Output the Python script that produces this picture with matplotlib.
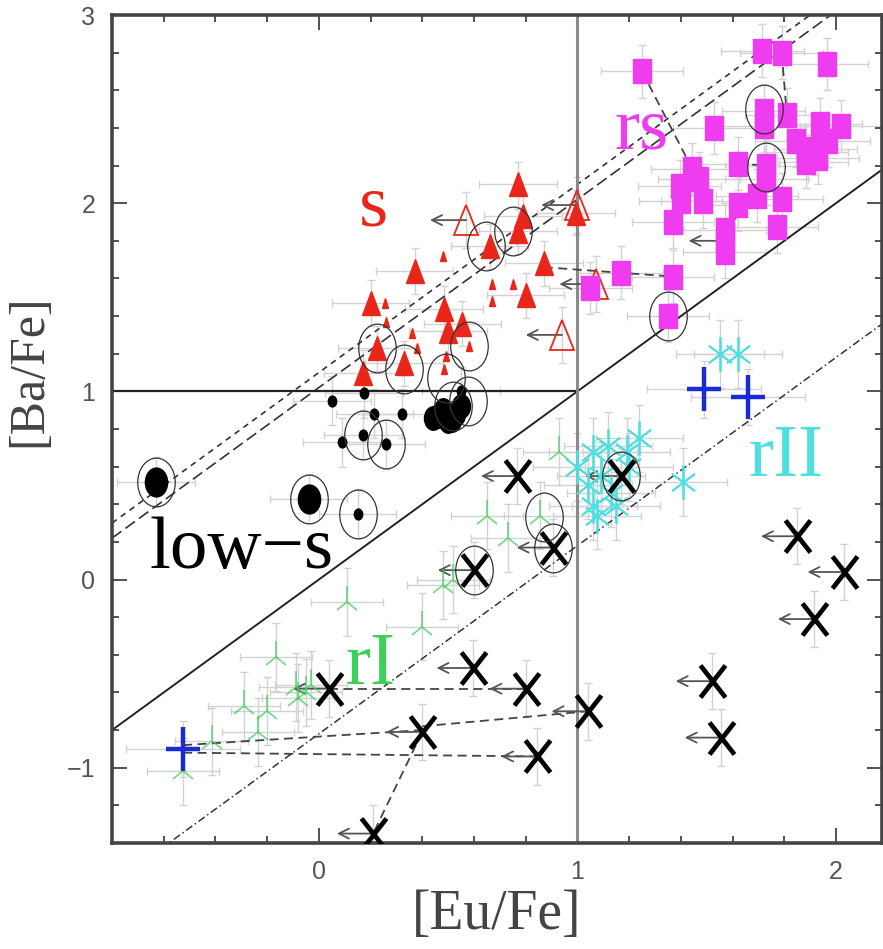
import numpy as np
import matplotlib
matplotlib.use("Agg")
import matplotlib.pyplot as plt
from matplotlib.markers import MarkerStyle
from matplotlib.transforms import Affine2D
from matplotlib.ticker import MultipleLocator, FixedLocator

# ---------------- data: [Eu/Fe] vs [Ba/Fe] ----------------
# s-rich stars (large filled triangles)
s_eu = [0.77, 0.79, 0.77, 0.66, 0.87, 0.80, 0.37, 0.20, 0.485, 0.50, 0.555, 0.225, 0.33, 0.17, 0.995]
s_ba = [2.10, 1.93, 1.85, 1.77, 1.68, 1.51, 1.64, 1.47, 1.44, 1.32, 1.36, 1.23, 1.15, 1.10, 1.95]
# s-rich stars (small triangles)
ss_eu = [0.48, 0.67, 0.67, 0.75, 0.255, 0.26, 0.36, 0.38, 0.58, 0.485, 0.49]
ss_ba = [1.72, 1.57, 1.48, 1.57, 1.47, 1.37, 1.31, 1.23, 1.24, 1.12, 1.19]
# s-rich stars with Eu upper limits (open triangles)
slim_eu = [0.57, 0.94, 1.00, 1.07]
slim_ba = [1.91, 1.30, 1.99, 1.57]

# rs stars
rs_eu = [1.25, 1.715, 1.79, 1.965, 1.72, 1.72, 1.81, 1.53, 1.94, 2.02, 1.845, 1.885,
         1.92, 1.97, 1.885, 1.93, 1.62, 1.73, 1.73, 1.445, 1.395, 1.47, 1.40, 1.485,
         1.62, 1.695, 1.79, 1.37, 1.77, 1.57, 1.57, 1.37, 1.17, 1.05, 1.35]
rs_ba = [2.70, 2.81, 2.80, 2.74, 2.49, 2.41, 2.47, 2.40, 2.42, 2.41, 2.33, 2.27,
         2.29, 2.33, 2.22, 2.24, 2.21, 2.20, 2.13, 2.18, 2.09, 2.13, 2.01, 2.01,
         1.99, 2.04, 2.02, 1.90, 1.875, 1.86, 1.74, 1.61, 1.63, 1.55, 1.40]
rslim_eu = [1.57]
rslim_ba = [1.80]

# low-s stars
ls_big_eu = [-0.63, -0.04]
ls_big_ba = [0.52, 0.43]
ls_mid_eu = [0.44, 0.46, 0.48, 0.50, 0.515, 0.53, 0.55]
ls_mid_ba = [0.86, 0.87, 0.90, 0.84, 0.85, 0.88, 0.92]
ls_small_eu = [0.05, 0.175, 0.215, 0.09, 0.17, 0.26, 0.32, 0.55, 0.15]
ls_small_ba = [0.95, 0.99, 0.88, 0.73, 0.77, 0.72, 0.88, 1.00, 0.35]

# r-I stars
rI_eu = [0.11, 0.40, 0.48, 0.52, 0.65, 0.73, 0.93, 0.855, -0.165, -0.09, -0.05,
         -0.08, -0.03, -0.29, -0.20, -0.235, -0.415, -0.525]
rI_ba = [-0.12, -0.25, -0.03, 0.00, 0.34, 0.22, 0.68, 0.34, -0.41, -0.57, -0.60,
         -0.63, -0.56, -0.67, -0.70, -0.81, -0.86, -1.02]

# r-II stars
rII_eu = [1.00, 1.04, 1.06, 1.06, 1.075, 1.09, 1.12, 1.13, 1.15, 1.19, 1.20, 1.24, 1.41, 1.55, 1.62]
rII_ba = [0.60, 0.50, 0.68, 0.39, 0.34, 0.55, 0.71, 0.46, 0.39, 0.68, 0.60, 0.75, 0.52, 1.20, 1.20]

# other stars (plus signs)
plus_eu = [-0.525, 1.49, 1.66]
plus_ba = [-0.90, 1.01, 0.97]

# stars with Eu upper limits (crosses)
cross_eu = [0.767, 1.17, 0.60, 0.905, 1.85, 2.03, 1.915, 1.52, 1.555, 0.595, 0.80, 0.04,
            1.04, 0.40, 0.845, 0.21]
cross_ba = [0.55, 0.55, 0.05, 0.17, 0.23, 0.04, -0.21, -0.54, -0.84, -0.47, -0.58, -0.58,
            -0.70, -0.81, -0.94, -1.35]

# circled objects
ring_eu = [-0.63, -0.04, 0.15, 0.17, 0.26, 0.225, 0.33, 0.49, 0.58, 0.645, 0.75, 0.575,
           0.52, 1.72, 1.73, 1.35, 1.17, 0.87, 0.905, 0.60]
ring_ba = [0.52, 0.43, 0.35, 0.77, 0.72, 1.23, 1.12, 1.07, 1.24, 1.77, 1.85, 0.95,
           0.92, 2.50, 2.19, 1.40, 0.55, 0.33, 0.17, 0.05]

# dashed links between measurements of the same star
link_eu = [[0.04, 0.80], [-0.525, 0.40], [-0.525, 0.845], [0.40, 1.04], [0.40, 0.21],
           [0.87, 1.17, 1.37], [1.25, 1.445], [1.62, 1.73], [1.57, 1.695], [1.79, 1.81]]
link_ba = [[-0.58, -0.58], [-0.88, -0.80], [-0.92, -0.94], [-0.78, -0.70], [-0.81, -1.35],
           [1.66, 1.63, 1.61], [2.70, 2.18], [2.21, 2.20], [1.86, 2.04], [2.80, 2.47]]

# classification boundaries: [Ba/Fe] = [Eu/Fe] + c
bound_solid = 0.0
bound_dashdot = -0.82
bound_dash_short = 1.10
bound_dash_long = 1.02

x_ticks = [0, 1, 2]
y_ticks = [-1, 0, 1, 2, 3]

# ---------------- styling ----------------
RED = "#e8261a"
MAGENTA = "#f03cf0"
CYAN = "#4ee0e0"
GREEN = "#3ccf5a"
BLUE = "#1a2ad6"
ERR = "#d2d2d2"
STRETCH = 1.3


def mk(m, fill="full"):
    return MarkerStyle(m, fillstyle=fill, transform=Affine2D().scale(1.0, STRETCH))


fig = plt.figure(figsize=(8.83, 9.49), dpi=100)
ax = fig.add_axes([112 / 883, 1 - 843 / 949, 770 / 883, 828 / 949])
ax.set_xlim(-0.8, 2.178)
ax.set_ylim(-1.4, 3.0)

# boundaries
xs = np.array(ax.get_xlim())
ax.plot(xs, xs + bound_solid, color="#222", lw=1.4, zorder=2)
ax.plot(xs, xs + bound_dashdot, color="#333", lw=1.1, dashes=(5, 2, 1, 2), zorder=2)
ax.plot(xs, xs + bound_dash_short, color="#333", lw=1.2, dashes=(3.5, 3), zorder=2)
ax.plot(xs, xs + bound_dash_long, color="#333", lw=1.2, dashes=(7, 3), zorder=2)
ax.plot([xs[0], 1], [1, 1], color="#222", lw=1.6, zorder=2)
ax.axvline(1, color="#8a8a8a", lw=2.2, zorder=2)

# error bars
eb = dict(fmt="none", ecolor=ERR, elinewidth=1.0, capsize=3, capthick=1.0, zorder=1)
ax.errorbar(s_eu, s_ba, xerr=0.15, yerr=0.12, **eb)
ax.errorbar(slim_eu, slim_ba, yerr=0.15, **eb)
ax.errorbar(rs_eu, rs_ba, xerr=0.16, yerr=0.14, **eb)
ax.errorbar(ls_big_eu + ls_small_eu, ls_big_ba + ls_small_ba, xerr=0.15, yerr=0.13, **eb)
ax.errorbar(rI_eu, rI_ba, xerr=0.14, yerr=0.18, **eb)
ax.errorbar(rII_eu, rII_ba, xerr=0.17, yerr=0.18, **eb)
ax.errorbar(plus_eu, plus_ba, xerr=0.22, yerr=0.15, **eb)
ax.errorbar(cross_eu, cross_ba, yerr=0.15, **eb)

# dashed links
for le, lb in zip(link_eu, link_ba):
    ax.plot(le, lb, color="#444", lw=1.3, dashes=(5, 3), zorder=3)

# upper-limit arrows
arrow_kw = dict(arrowstyle="->", color="#555", lw=1.3, shrinkA=0, shrinkB=0, mutation_scale=18)
for xe, yb in zip(cross_eu + slim_eu + rslim_eu, cross_ba + slim_ba + rslim_ba):
    ax.annotate("", xy=(xe - 0.14, yb), xytext=(xe, yb), arrowprops=arrow_kw, zorder=3)

# markers
ax.plot(rI_eu, rI_ba, ls="none", marker=mk("2"), ms=18, mew=1.2, color=GREEN, alpha=0.75, zorder=4)
ax.plot(rII_eu, rII_ba, ls="none", marker=mk((6, 2, 0)), ms=19, mew=1.3, color=CYAN, zorder=4)
ax.plot(s_eu, s_ba, ls="none", marker=mk("^"), ms=13, color=RED, mec=RED, zorder=5)
ax.plot(ss_eu, ss_ba, ls="none", marker=mk("^"), ms=5, color=RED, mec=RED, zorder=5)
ax.plot(slim_eu, slim_ba, ls="none", marker=mk("^", "none"), ms=17, mew=1.3, color=RED, zorder=5)
ax.plot(rs_eu + rslim_eu, rs_ba + rslim_ba, ls="none", marker=mk("s"), ms=13.5, color=MAGENTA,
        mec=MAGENTA, zorder=5)
ax.plot(ls_big_eu, ls_big_ba, ls="none", marker=mk("o"), ms=16, color="black", zorder=5)
ax.plot(ls_mid_eu, ls_mid_ba, ls="none", marker=mk("o"), ms=13, color="black", zorder=5)
ax.plot(ls_small_eu, ls_small_ba, ls="none", marker=mk("o"), ms=6, color="black", zorder=5)
ax.plot(plus_eu, plus_ba, ls="none", marker=mk("+"), ms=24, mew=3.2, color=BLUE, zorder=6)
ax.plot(cross_eu, cross_ba, ls="none", marker=mk("x"), ms=18, mew=3.4, color="black", zorder=6)
ax.plot(ring_eu, ring_ba, ls="none", marker=mk("o", "none"), ms=27, mew=0.9, color="#333", zorder=6)

# group labels
lab = dict(family="Liberation Serif", fontsize=54, ha="center", va="baseline", zorder=7)
ax.text(0.21, 1.88, "s", color=RED, **lab)
ax.text(1.25, 2.29, "rs", color=MAGENTA, **lab)
ax.text(-0.30, 0.06, "low\u2212s", color="black", **lab)
ax.text(0.20, -0.556, "rI", color=GREEN, **lab)
ax.text(1.805, 0.55, "rII", color=CYAN, **lab)

# axes
ax.xaxis.set_major_locator(FixedLocator(x_ticks))
ax.yaxis.set_major_locator(FixedLocator(y_ticks))
ax.xaxis.set_minor_locator(MultipleLocator(0.2))
ax.yaxis.set_minor_locator(MultipleLocator(0.2))
ax.tick_params(which="both", direction="in", top=True, right=True, color="#444", width=1.3)
ax.tick_params(which="major", length=11, labelsize=18, labelcolor="#555", pad=12)
ax.tick_params(which="minor", length=5)
for lbl in ax.get_xticklabels() + ax.get_yticklabels():
    lbl.set_family("Liberation Sans")
for sp in ax.spines.values():
    sp.set_linewidth(2.6)
    sp.set_color("#444")

ax.set_xlabel("[Eu/Fe]", family="Liberation Serif", fontsize=40, color="#444", labelpad=4)
ax.set_ylabel("[Ba/Fe]", family="Liberation Serif", fontsize=36, color="#444")
ax.yaxis.set_label_coords(-0.078, 0.57)

fig.savefig("out.png", dpi=100)
